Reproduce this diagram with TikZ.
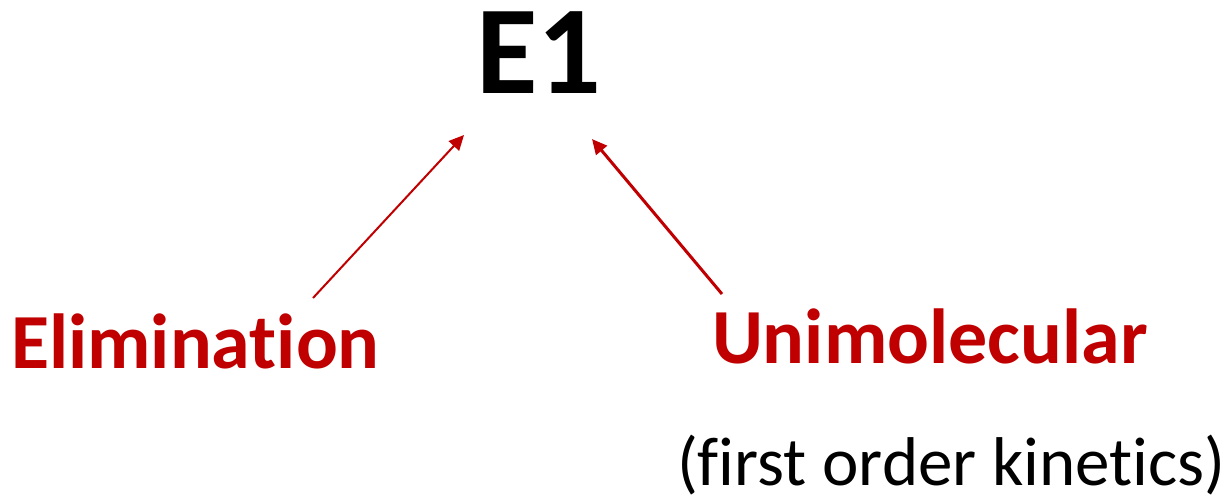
\documentclass[tikz,border=0pt]{standalone}
\usepackage{fontspec}
\setmainfont{Carlito}[Ligatures={NoCommon}]
\usetikzlibrary{arrows.meta}
\definecolor{darkred}{HTML}{C00000}
\tikzset{
  lbl/.style={anchor=base west, inner sep=0pt, outer sep=0pt},
  redlbl/.style={lbl, text=darkred, font=\fontsize{78}{78}\selectfont\bfseries},
  arr/.style={draw=darkred, line width=2.5pt, -{Triangle[length=15pt,width=14pt]}}
}
\begin{document}
\begin{tikzpicture}[x=1pt,y=-1pt]
\useasboundingbox (0,0) rectangle (1231,499);
\node[lbl, font=\fontsize{126}{126}\selectfont\bfseries] (e1) at (476,93) {E1};
\node[redlbl] (elim) at (11,368) {Elimination};
\node[redlbl] (uni) at (712,363) {Unimolecular};
\node[lbl, font=\fontsize{69}{69}\selectfont] (kin) at (677,485) {(first order kinetics)};
\coordinate (t1) at (313,298);
\coordinate (h1) at (464,135);
\coordinate (t2) at (722,294);
\coordinate (h2) at (592,139);
\draw[arr, line width=2pt] (t1) -- (h1);
\draw[arr, line width=3pt] (t2) -- (h2);
\end{tikzpicture}
\end{document}
